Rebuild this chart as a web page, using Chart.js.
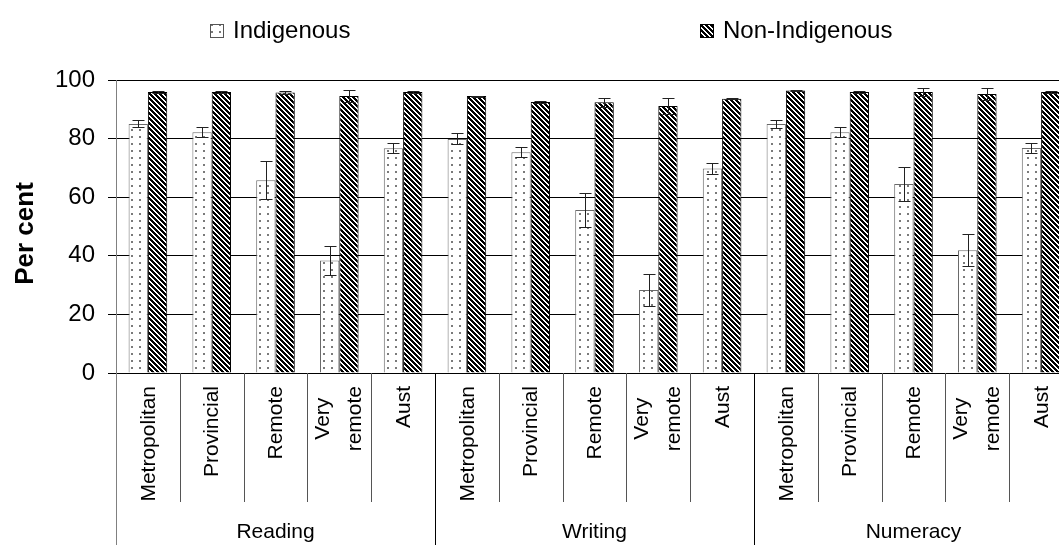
<!DOCTYPE html>
<html><head><meta charset="utf-8">
<script src="https://cdn.jsdelivr.net/npm/chart.js@4/dist/chart.umd.min.js"></script>
<style>html,body{margin:0;padding:0;overflow:hidden;background:#fff;width:1059px;height:545px}canvas{display:block}</style>
</head><body>
<canvas id="c" width="1080" height="545"></canvas>
<script>
// ---- data ----
const groups = ['Reading', 'Writing', 'Numeracy'];
const regions = [['Metropolitan'], ['Provincial'], ['Remote'], ['Very', 'remote'], ['Aust']];
const seriesNames = ['Indigenous', 'Non-Indigenous'];
const indigenous        = [85.0, 82.2, 65.8, 38.4, 76.7, 79.9, 75.3, 55.6, 28.3, 69.8, 85.0, 82.2, 64.5, 41.9, 76.8];
const indigenousError   = [1.2, 1.8, 6.4, 5.1, 1.7, 1.9, 1.7, 5.8, 5.6, 2.0, 1.3, 1.8, 5.8, 5.5, 1.7];
const nonIndigenous     = [95.9, 95.9, 95.7, 94.5, 95.9, 94.5, 92.5, 92.4, 91.1, 93.6, 96.4, 95.9, 95.9, 95.2, 95.9];
const nonIndigenousError= [0.2, 0.2, 0.6, 2.0, 0.2, 0.2, 0.3, 1.5, 2.7, 0.2, 0.2, 0.2, 1.3, 2.0, 0.3];
const yTicks = [0, 20, 40, 60, 80, 100];
const yTitle = 'Per cent';

const categories = [];
const categoryLines = [];
groups.forEach(g => regions.forEach(r => {
  categories.push(g + ' - ' + r.join(' '));
  categoryLines.push(r);
}));

const FONT = "'Liberation Sans', Arial, sans-serif";
Chart.defaults.font.family = FONT;
Chart.defaults.color = '#000';

// ---- patterns ----
function dotPattern() {
  const c = document.createElement('canvas'); c.width = 8; c.height = 7;
  const x = c.getContext('2d');
  x.fillStyle = '#fff'; x.fillRect(0, 0, 8, 7);
  x.fillStyle = '#7a7a7a'; x.fillRect(3, 3, 2, 2);
  return x.createPattern(c, 'repeat');
}
function stripePattern() {
  const s = 5;
  const c = document.createElement('canvas'); c.width = s; c.height = s;
  const x = c.getContext('2d');
  const img = x.createImageData(s, s);
  for (let j = 0; j < s; j++) for (let i = 0; i < s; i++) {
    const k = ((i - j) % s + s) % s;
    const v = k < 3 ? 0 : 255;
    const p = (j * s + i) * 4;
    img.data[p] = img.data[p + 1] = img.data[p + 2] = v; img.data[p + 3] = 255;
  }
  x.putImageData(img, 0, 0);
  return x.createPattern(c, 'repeat');
}
const dots = dotPattern();
const stripes = stripePattern();

// ---- plugins ----
const errorBars = {
  id: 'errorBars',
  afterDatasetsDraw(chart) {
    const ctx = chart.ctx, y = chart.scales.y;
    ctx.save();
    ctx.strokeStyle = '#222'; ctx.lineWidth = 1;
    chart.data.datasets.forEach((ds, di) => {
      const meta = chart.getDatasetMeta(di);
      meta.data.forEach((bar, i) => {
        const v = ds.data[i], e = ds.errors[i];
        const x = Math.round(bar.x) + 0.5;
        const t = Math.round(y.getPixelForValue(v + e)) + 0.5;
        const b = Math.round(y.getPixelForValue(v - e)) + 0.5;
        ctx.beginPath();
        ctx.moveTo(x, t); ctx.lineTo(x, b);
        ctx.moveTo(x - 6, t); ctx.lineTo(x + 6, t);
        ctx.moveTo(x - 6, b); ctx.lineTo(x + 6, b);
        ctx.stroke();
      });
    });
    ctx.restore();
  }
};

const axisDecor = {
  id: 'axisDecor',
  afterDraw(chart) {
    const ctx = chart.ctx, xs = chart.scales.x, a = chart.chartArea;
    const H = chart.height;
    const step = xs.getPixelForValue(1) - xs.getPixelForValue(0);
    const bottom = Math.round(a.bottom);
    ctx.save();
    ctx.lineWidth = 1;
    for (let k = 0; k <= categories.length; k++) {
      const bx = Math.round(xs.getPixelForValue(0) - step / 2 + k * step) + 0.5;
      ctx.beginPath();
      if (k === 0) {
        ctx.strokeStyle = '#808080';
        ctx.moveTo(bx, bottom); ctx.lineTo(bx, H);
      } else if (k % regions.length === 0) {
        ctx.strokeStyle = '#000';
        ctx.moveTo(bx, bottom); ctx.lineTo(bx, H);
      } else {
        ctx.strokeStyle = '#555';
        ctx.moveTo(bx, bottom); ctx.lineTo(bx, 502);
      }
      ctx.stroke();
    }
    // category labels (rotated)
    ctx.fillStyle = '#000';
    ctx.font = '21px ' + FONT;
    categoryLines.forEach((lines, i) => {
      const cx = xs.getPixelForValue(i);
      const top = bottom + 13;
      if (lines.length === 1) {
        ctx.save();
        ctx.translate(cx + 1, top);
        ctx.rotate(-Math.PI / 2);
        ctx.textAlign = 'right'; ctx.textBaseline = 'middle';
        ctx.fillText(lines[0], 0, 0);
        ctx.restore();
      } else {
        const w = Math.max(...lines.map(l => ctx.measureText(l).width));
        const cy = top + w / 2;
        const gap = 32;
        lines.forEach((l, j) => {
          ctx.save();
          ctx.translate(cx + (j - (lines.length - 1) / 2) * gap, cy);
          ctx.rotate(-Math.PI / 2);
          ctx.textAlign = 'center'; ctx.textBaseline = 'middle';
          ctx.fillText(l, 0, 0);
          ctx.restore();
        });
      }
    });
    // group labels
    groups.forEach((g, gi) => {
      const first = gi * regions.length, last = first + regions.length - 1;
      const gx = (xs.getPixelForValue(first) + xs.getPixelForValue(last)) / 2;
      ctx.textAlign = 'center'; ctx.textBaseline = 'middle';
      ctx.fillText(g, gx, 532);
    });
    // y axis title
    ctx.save();
    ctx.font = 'bold 26px ' + FONT;
    ctx.translate(26, (a.top + a.bottom) / 2 + 7);
    ctx.rotate(-Math.PI / 2);
    ctx.textAlign = 'center'; ctx.textBaseline = 'middle';
    ctx.fillText(yTitle, 0, 0);
    ctx.restore();
    ctx.restore();
  }
};

const legendDecor = {
  id: 'legendDecor',
  afterDraw(chart) {
    const ctx = chart.ctx;
    const items = [
      { x: 210, fill: dots, border: '#555', text: seriesNames[0] },
      { x: 700, fill: stripes, border: '#000', text: seriesNames[1] }
    ];
    ctx.save();
    ctx.font = '24px ' + FONT;
    items.forEach(it => {
      ctx.fillStyle = it.fill;
      ctx.fillRect(it.x, 24, 13, 13);
      ctx.strokeStyle = it.border; ctx.lineWidth = 1;
      ctx.strokeRect(it.x + 0.5, 24.5, 13, 13);
      ctx.fillStyle = '#000';
      ctx.textAlign = 'left'; ctx.textBaseline = 'alphabetic';
      ctx.fillText(it.text, it.x + 23, 38);
    });
    ctx.restore();
  }
};

new Chart(document.getElementById('c'), {
  type: 'bar',
  data: {
    labels: categories,
    datasets: [
      { label: seriesNames[0], data: indigenous, errors: indigenousError,
        backgroundColor: dots, borderColor: '#6a6a6a', borderWidth: 1 },
      { label: seriesNames[1], data: nonIndigenous, errors: nonIndigenousError,
        backgroundColor: stripes, borderColor: '#000', borderWidth: 1 }
    ]
  },
  options: {
    responsive: false,
    animation: false,
    devicePixelRatio: 1,
    layout: { padding: { left: 0, right: 7, top: 80, bottom: 172 } },
    datasets: { bar: { categoryPercentage: 0.605, barPercentage: 1.0 } },
    plugins: { legend: { display: false }, tooltip: { enabled: false } },
    scales: {
      x: { display: false },
      y: {
        min: 0, max: 100,
        afterBuildTicks: s => { s.ticks = yTicks.map(v => ({ value: v })); },
        afterFit: s => { s.width = 116; },
        ticks: { font: { size: 24 }, color: '#000', padding: 13 },
        grid: { color: '#000', lineWidth: 1, tickLength: 8, tickColor: '#000' },
        border: { color: '#808080', width: 1 },
        title: { display: false }
      }
    }
  },
  plugins: [errorBars, axisDecor, legendDecor]
});
</script>
</body></html>
